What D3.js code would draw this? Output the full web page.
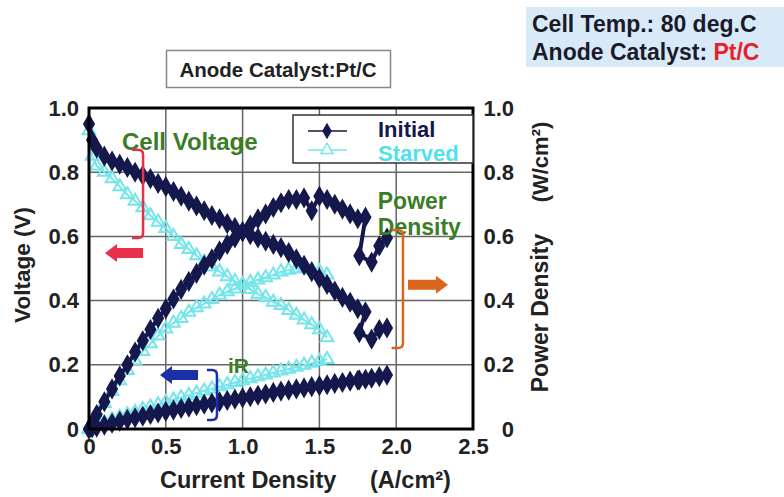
<!DOCTYPE html>
<html>
<head>
<meta charset="utf-8">
<script src="https://cdn.jsdelivr.net/npm/d3@7"></script>
<style>
  body { margin: 0; background: #fff; }
  svg text { font-family: Arial, "Liberation Sans", sans-serif; font-weight: bold; }
</style>
</head>
<body>
<div id="chart"></div>
<script>
// values
var xTicks = [0, 0.5, 1.0, 1.5, 2.0, 2.5];
var xTickLabels = ["0", "0.5", "1.0", "1.5", "2.0", "2.5"];
var yTicks = [0, 0.2, 0.4, 0.6, 0.8, 1.0];
var yTickLabels = ["0", "0.2", "0.4", "0.6", "0.8", "1.0"];

var initialCurrent = [0, 0.02, 0.05, 0.10, 0.15, 0.20, 0.25, 0.30, 0.35, 0.40, 0.45, 0.50, 0.55, 0.60, 0.65, 0.70, 0.75,
  0.80, 0.85, 0.90, 0.95, 1.00, 1.05, 1.10, 1.15, 1.20, 1.25, 1.30, 1.35, 1.40, 1.45, 1.50, 1.55, 1.60, 1.65,
  1.70, 1.75, 1.80, 1.76, 1.84, 1.89, 1.94];
var initialVoltage = [0.95, 0.90, 0.875, 0.85, 0.835, 0.825, 0.815, 0.80, 0.79, 0.78, 0.765, 0.755, 0.74, 0.725, 0.71, 0.695, 0.68,
  0.665, 0.655, 0.64, 0.628, 0.615, 0.605, 0.595, 0.585, 0.575, 0.565, 0.55, 0.53, 0.51, 0.49, 0.47, 0.45, 0.43, 0.41,
  0.395, 0.375, 0.365, 0.30, 0.28, 0.31, 0.315];
var initialPower = [0, 0.018, 0.045, 0.085, 0.125, 0.165, 0.20, 0.24, 0.275, 0.31, 0.345, 0.375, 0.405, 0.435, 0.46, 0.485, 0.51,
  0.53, 0.555, 0.575, 0.595, 0.615, 0.635, 0.655, 0.67, 0.69, 0.705, 0.715, 0.715, 0.72, 0.68, 0.725, 0.715, 0.70, 0.685,
  0.67, 0.655, 0.66, 0.54, 0.52, 0.57, 0.595];
var initialIR = [0, 0.003, 0.006, 0.012, 0.018, 0.024, 0.030, 0.035, 0.040, 0.045, 0.050, 0.055, 0.059, 0.064, 0.068, 0.073, 0.077,
  0.081, 0.085, 0.089, 0.093, 0.097, 0.101, 0.105, 0.109, 0.114, 0.118, 0.121, 0.125, 0.128, 0.132, 0.135, 0.138, 0.142, 0.145,
  0.149, 0.152, 0.155, 0.153, 0.158, 0.163, 0.168];

var starvedCurrent = [0, 0.02, 0.05, 0.10, 0.15, 0.20, 0.25, 0.30, 0.35, 0.40, 0.45, 0.50, 0.55, 0.60, 0.65, 0.70, 0.75,
  0.80, 0.85, 0.90, 0.95, 1.00, 1.05, 1.10, 1.15, 1.20, 1.25, 1.30, 1.35, 1.40, 1.45, 1.50, 1.55];
var starvedVoltage = [0.93, 0.85, 0.82, 0.80, 0.78, 0.755, 0.73, 0.71, 0.69, 0.665, 0.645, 0.625, 0.60, 0.575, 0.56, 0.54, 0.52,
  0.505, 0.49, 0.475, 0.46, 0.45, 0.435, 0.42, 0.41, 0.395, 0.385, 0.37, 0.355, 0.34, 0.325, 0.31, 0.285];
var starvedPower = [0, 0.017, 0.041, 0.08, 0.117, 0.151, 0.183, 0.213, 0.242, 0.266, 0.29, 0.312, 0.33, 0.345, 0.364, 0.378, 0.39,
  0.404, 0.417, 0.428, 0.437, 0.45, 0.457, 0.465, 0.472, 0.48, 0.49, 0.495, 0.50, 0.50, 0.495, 0.49, 0.48];
var starvedIR = [0, 0.004, 0.01, 0.02, 0.029, 0.037, 0.045, 0.053, 0.061, 0.069, 0.076, 0.084, 0.091, 0.098, 0.105, 0.112, 0.119,
  0.125, 0.132, 0.138, 0.145, 0.151, 0.157, 0.163, 0.169, 0.175, 0.181, 0.187, 0.193, 0.199, 0.205, 0.211, 0.217];

var navy = "#15184c", cyan = "#74e6ea", green = "#3a7d26";

var width = 784, height = 497;
var margin = {top: 108, right: 311, bottom: 68, left: 89};

var svg = d3.select("#chart").append("svg")
  .attr("width", width)
  .attr("height", height);

var x = d3.scaleLinear().domain([0, 2.5]).range([margin.left, width - margin.right]);
var y = d3.scaleLinear().domain([0, 1]).range([height - margin.bottom, margin.top]);
var y2 = d3.scaleLinear().domain([0, 1]).range([height - margin.bottom, margin.top]);

// top-right info box
svg.append("rect").attr("x", 526).attr("y", 7).attr("width", 258).attr("height", 60).attr("fill", "#d8eaf8");
svg.append("text").attr("x", 532).attr("y", 32).attr("font-size", 23).attr("fill", "#1a1a2a").text("Cell Temp.: 80 deg.C");
var t2 = svg.append("text").attr("x", 532).attr("y", 60).attr("font-size", 23).attr("fill", "#1a1a2a");
t2.append("tspan").text("Anode Catalyst: ");
t2.append("tspan").attr("fill", "#e8202a").text("Pt/C");

// title box
svg.append("rect").attr("x", 166.5).attr("y", 50.5).attr("width", 224).attr("height", 37)
  .attr("fill", "#fff").attr("stroke", "#888").attr("stroke-width", 1.5);
svg.append("text").attr("x", 278).attr("y", 77).attr("text-anchor", "middle").attr("font-size", 20.5).attr("fill", "#222")
  .text("Anode Catalyst:Pt/C");

// grid
svg.append("g").selectAll("line").data(xTicks.slice(1, -1)).enter().append("line")
  .attr("x1", function(d) { return x(d); }).attr("x2", function(d) { return x(d); })
  .attr("y1", y(0)).attr("y2", y(1))
  .attr("stroke", "#666").attr("stroke-width", 1.5);
svg.append("g").selectAll("line").data(yTicks.slice(1, -1)).enter().append("line")
  .attr("y1", function(d) { return y(d); }).attr("y2", function(d) { return y(d); })
  .attr("x1", x(0)).attr("x2", x(2.5))
  .attr("stroke", "#666").attr("stroke-width", 1.5);

// axes labels
var xAxis = d3.axisBottom(x).tickValues(xTicks).tickSize(0).tickPadding(9)
  .tickFormat(function(d, i) { return xTickLabels[i]; });
svg.append("g").attr("transform", "translate(0," + y(0) + ")").call(xAxis)
  .call(function(g) { g.select(".domain").remove(); })
  .selectAll("text").attr("font-size", 22).attr("fill", "#222").attr("font-family", null);

var yAxis = d3.axisLeft(y).tickValues(yTicks).tickSize(0).tickPadding(10)
  .tickFormat(function(d, i) { return yTickLabels[i]; });
svg.append("g").attr("transform", "translate(" + x(0) + ",0)").call(yAxis)
  .call(function(g) { g.select(".domain").remove(); })
  .selectAll("text").attr("font-size", 22).attr("fill", "#222").attr("font-family", null);

var yAxis2 = d3.axisRight(y2).tickValues(yTicks).tickSize(0).tickPadding(41)
  .tickFormat(function(d, i) { return yTickLabels[i]; });
svg.append("g").attr("transform", "translate(" + x(2.5) + ",0)").call(yAxis2)
  .call(function(g) { g.select(".domain").remove(); })
  .selectAll("text").attr("font-size", 22).attr("fill", "#222").attr("font-family", null)
  .attr("text-anchor", "end");

svg.append("text").attr("x", 160).attr("y", 488).attr("font-size", 23.5).attr("fill", "#222").text("Current Density");
svg.append("text").attr("x", 370).attr("y", 488).attr("font-size", 23.5).attr("fill", "#222").text("(A/cm\u00b2)");
svg.append("text").attr("transform", "translate(30,265) rotate(-90)").attr("text-anchor", "middle")
  .attr("font-size", 22.5).attr("fill", "#222").text("Voltage (V)");
svg.append("text").attr("transform", "translate(548,313) rotate(-90)").attr("text-anchor", "middle")
  .attr("font-size", 23).attr("fill", "#222").text("Power Density");
svg.append("text").attr("transform", "translate(548,162) rotate(-90)").attr("text-anchor", "middle")
  .attr("font-size", 22).attr("fill", "#222").text("(W/cm\u00b2)");

// series
function drawSeries(xs, ys, scale, kind) {
  var pts = xs.map(function(d, i) { return [d, ys[i]]; });
  var line = d3.line().x(function(d) { return x(d[0]); }).y(function(d) { return scale(d[1]); });
  var g = svg.append("g");
  g.append("path").datum(pts).attr("d", line).attr("fill", "none")
    .attr("stroke", kind === "initial" ? navy : cyan).attr("stroke-width", kind === "initial" ? 4 : 2);
  var sym = kind === "initial" ? d3.symbol().type(d3.symbolDiamond).size(95)
                               : d3.symbol().type(d3.symbolTriangle).size(70);
  g.selectAll("path.m").data(pts).enter().append("path").attr("class", "m")
    .attr("transform", function(d) { return "translate(" + x(d[0]) + "," + scale(d[1]) + ")"; })
    .attr("d", sym)
    .attr("fill", kind === "initial" ? navy : "none")
    .attr("stroke", kind === "initial" ? navy : cyan)
    .attr("stroke-width", kind === "initial" ? 1.5 : 2);
}

drawSeries(starvedCurrent, starvedIR, y, "starved");
drawSeries(starvedCurrent, starvedPower, y2, "starved");
drawSeries(starvedCurrent, starvedVoltage, y, "starved");
drawSeries(initialCurrent, initialIR, y, "initial");
drawSeries(initialCurrent, initialPower, y2, "initial");
drawSeries(initialCurrent, initialVoltage, y, "initial");

// frame
svg.append("rect").attr("x", x(0)).attr("y", y(1)).attr("width", x(2.5) - x(0)).attr("height", y(0) - y(1))
  .attr("fill", "none").attr("stroke", "#000").attr("stroke-width", 3);

// legend
var lg = svg.append("g");
lg.append("rect").attr("x", 293).attr("y", 115).attr("width", x(2.5) - 293).attr("height", 48)
  .attr("fill", "#fff").attr("stroke", "#333").attr("stroke-width", 1.5);
lg.append("line").attr("x1", 308).attr("x2", 347).attr("y1", 131).attr("y2", 131).attr("stroke", navy).attr("stroke-width", 1.5);
lg.append("path").attr("transform", "translate(327,131)").attr("d", d3.symbol().type(d3.symbolDiamond).size(80)).attr("fill", navy);
lg.append("line").attr("x1", 308).attr("x2", 347).attr("y1", 150).attr("y2", 150).attr("stroke", cyan).attr("stroke-width", 1.5);
lg.append("path").attr("transform", "translate(327,150)").attr("d", d3.symbol().type(d3.symbolTriangle).size(60))
  .attr("fill", "#fff").attr("stroke", cyan).attr("stroke-width", 1.5);
lg.append("text").attr("x", 378).attr("y", 137).attr("font-size", 22).attr("fill", navy).text("Initial");
lg.append("text").attr("x", 378).attr("y", 161).attr("font-size", 22).attr("fill", "#4fe2ea").text("Starved");

// annotations
svg.append("text").attr("x", x(0.215)).attr("y", y(0.87)).attr("font-size", 24).attr("fill", green).text("Cell Voltage");
svg.append("text").attr("x", x(1.88)).attr("y", y(0.684)).attr("font-size", 23).attr("fill", green).text("Power");
svg.append("text").attr("x", x(1.88)).attr("y", y(0.604)).attr("font-size", 23).attr("fill", green).text("Density");
svg.append("text").attr("x", x(0.905)).attr("y", y(0.174)).attr("font-size", 21).attr("fill", green).text("iR");

function bracket(x0, x1, yTop, yBot, color) {
  var r = 5;
  var p = d3.path();
  p.moveTo(x(x0), y(yTop));
  p.lineTo(x(x1) - r, y(yTop));
  p.quadraticCurveTo(x(x1), y(yTop), x(x1), y(yTop) + r);
  p.lineTo(x(x1), y(yBot) - r);
  p.quadraticCurveTo(x(x1), y(yBot), x(x1) - r, y(yBot));
  p.lineTo(x(x0), y(yBot));
  svg.append("path").attr("d", p.toString()).attr("fill", "none").attr("stroke", color).attr("stroke-width", 2.5);
}
function arrow(xTail, xHead, yv, color) {
  var dir = xHead > xTail ? 1 : -1, head = 12, hw = 9, bw = 5;
  var yy = y(yv), a = x(xTail), b = x(xHead);
  var p = [[a, yy - bw], [b - dir * head, yy - bw], [b - dir * head, yy - hw], [b, yy],
           [b - dir * head, yy + hw], [b - dir * head, yy + bw], [a, yy + bw]];
  svg.append("path").attr("d", d3.line()(p) + "Z").attr("fill", color);
}
bracket(0.28, 0.352, 0.87, 0.595, "#e8304a");
arrow(0.352, 0.104, 0.548, "#e8304a");
bracket(0.768, 0.833, 0.184, 0.028, "#1a30a8");
arrow(0.71, 0.462, 0.168, "#1a30a8");
bracket(1.97, 2.044, 0.62, 0.252, "#d9661c");
arrow(2.077, 2.337, 0.449, "#d9661c");
</script>
</body>
</html>
